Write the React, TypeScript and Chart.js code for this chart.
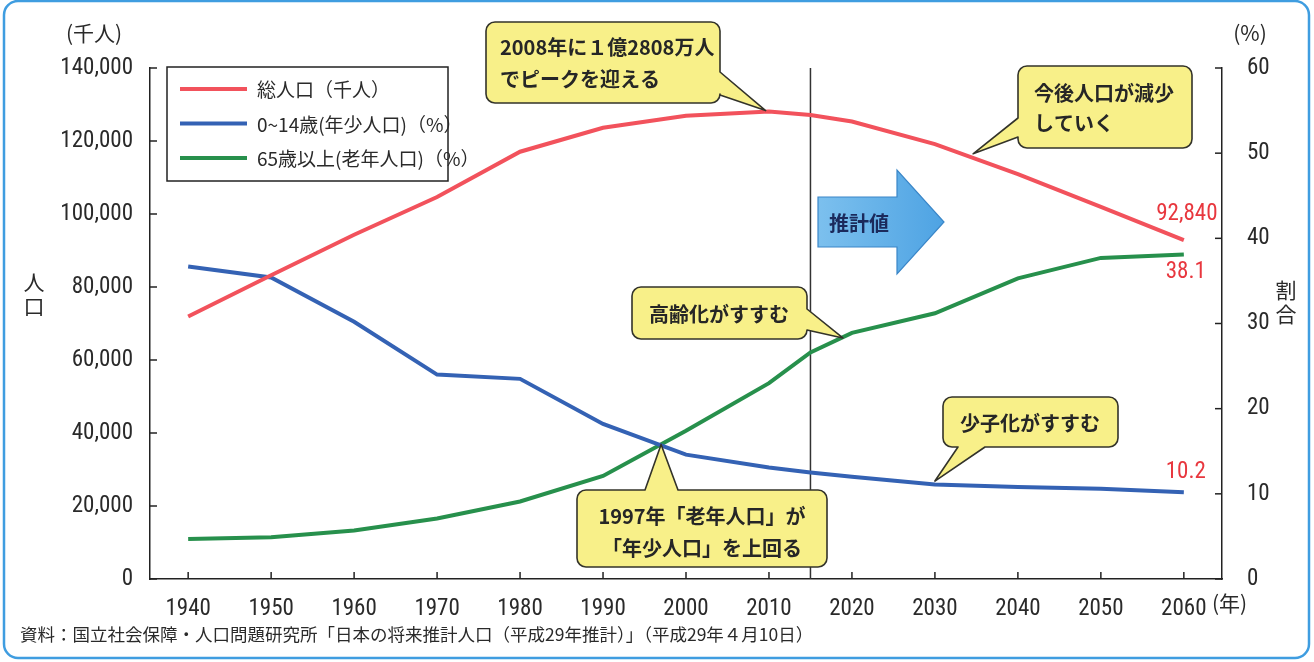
import React, { useEffect, useRef } from "react";
import { Chart, registerables } from "chart.js";

Chart.register(...registerables);

// ---- data ----
const years = [1940, 1950, 1960, 1970, 1980, 1990, 2000, 2010, 2015, 2020, 2030, 2040, 2050, 2060];
const totalPop = [71933, 83200, 94302, 104665, 117060, 123611, 126926, 128057, 127095, 125325, 119125, 110919, 101923, 92840];
const youngPct = [36.7, 35.4, 30.2, 24.0, 23.5, 18.2, 14.6, 13.1, 12.5, 12.0, 11.1, 10.8, 10.6, 10.2];
const oldPct = [4.7, 4.9, 5.7, 7.1, 9.1, 12.1, 17.4, 23.0, 26.6, 28.9, 31.2, 35.3, 37.7, 38.1];

const xTickValues = [1940, 1950, 1960, 1970, 1980, 1990, 2000, 2010, 2020, 2030, 2040, 2050, 2060];
const leftTickValues = [0, 20000, 40000, 60000, 80000, 100000, 120000, 140000];
const rightTickValues = [0, 10, 20, 30, 40, 50, 60];

const seriesLabels = ["総人口（千人）", "0~14歳(年少人口)（%）", "65歳以上(老年人口)（%）"];
const projectionStartYear = 2015;
const peakYear = 2008;

const COLORS = { total: "#f2525c", young: "#3462b4", old: "#27904c" };
const NUM_FAMILY = "Roboto,'DejaVu Sans',sans-serif";
const NUM_WEIGHT = "normal condensed";
const JP_FONT = "'Noto Sans CJK JP','Noto Sans',sans-serif";
const TEXT = "#2a2a2a";

function calloutPath(
  ctx: CanvasRenderingContext2D,
  x: number, y: number, w: number, h: number, r: number,
  side: string, a: number, b: number, tx: number, ty: number
) {
  ctx.beginPath();
  ctx.moveTo(x + r, y);
  if (side === "top") { ctx.lineTo(a, y); ctx.lineTo(tx, ty); ctx.lineTo(b, y); }
  ctx.lineTo(x + w - r, y);
  ctx.arcTo(x + w, y, x + w, y + r, r);
  if (side === "right") { ctx.lineTo(x + w, a); ctx.lineTo(tx, ty); ctx.lineTo(x + w, b); }
  ctx.lineTo(x + w, y + h - r);
  ctx.arcTo(x + w, y + h, x + w - r, y + h, r);
  if (side === "bottom") { ctx.lineTo(b, y + h); ctx.lineTo(tx, ty); ctx.lineTo(a, y + h); }
  ctx.lineTo(x + r, y + h);
  ctx.arcTo(x, y + h, x, y + h - r, r);
  if (side === "left") { ctx.lineTo(x, b); ctx.lineTo(tx, ty); ctx.lineTo(x, a); }
  ctx.lineTo(x, y + r);
  ctx.arcTo(x, y, x + r, y, r);
  ctx.closePath();
}

function drawCallout(
  ctx: CanvasRenderingContext2D,
  box: [number, number, number, number],
  side: string, a: number, b: number, tx: number, ty: number,
  lines: string[], lineGap: number, align: "left" | "center", textX: number, textY: number
) {
  const [x, y, w, h] = box;
  ctx.save();
  calloutPath(ctx, x, y, w, h, 9, side, a, b, tx, ty);
  ctx.fillStyle = "#f8f089";
  ctx.fill();
  ctx.lineWidth = 1.6;
  ctx.strokeStyle = "#33332a";
  ctx.lineJoin = "round";
  ctx.stroke();
  ctx.fillStyle = "#262626";
  ctx.font = `bold 20px ${JP_FONT}`;
  ctx.textAlign = align;
  ctx.textBaseline = "middle";
  lines.forEach((t, i) => ctx.fillText(t, textX, textY + i * lineGap));
  ctx.restore();
}

const decorPlugin = {
  id: "decor",
  beforeDraw(chart: any) {
    const ctx = chart.ctx as CanvasRenderingContext2D;
    ctx.save();
    ctx.fillStyle = "#ffffff";
    ctx.fillRect(0, 0, chart.width, chart.height);
    ctx.beginPath();
    const fx = 4, fy = 1, fw = 1305, fh = 657, fr = 14;
    ctx.moveTo(fx + fr, fy);
    ctx.arcTo(fx + fw, fy, fx + fw, fy + fh, fr);
    ctx.arcTo(fx + fw, fy + fh, fx, fy + fh, fr);
    ctx.arcTo(fx, fy + fh, fx, fy, fr);
    ctx.arcTo(fx, fy, fx + fw, fy, fr);
    ctx.closePath();
    ctx.lineWidth = 2.5;
    ctx.strokeStyle = "#3f9de0";
    ctx.stroke();
    ctx.restore();
  },
  beforeDatasetsDraw(chart: any) {
    const ctx = chart.ctx as CanvasRenderingContext2D;
    const { x, yL, yR } = chart.scales;
    const area = chart.chartArea;
    ctx.save();
    const px = x.getPixelForValue(projectionStartYear);
    ctx.beginPath();
    ctx.moveTo(px, area.top);
    ctx.lineTo(px, area.bottom);
    ctx.lineWidth = 1.5;
    ctx.strokeStyle = "#333";
    ctx.stroke();
    ctx.lineWidth = 1.5;
    ctx.strokeStyle = "#222";
    xTickValues.forEach((v) => {
      const p = x.getPixelForValue(v);
      ctx.beginPath(); ctx.moveTo(p, area.bottom); ctx.lineTo(p, area.bottom - 7); ctx.stroke();
    });
    leftTickValues.forEach((v) => {
      const p = yL.getPixelForValue(v);
      ctx.beginPath(); ctx.moveTo(area.left, p); ctx.lineTo(area.left + 7, p); ctx.stroke();
    });
    rightTickValues.forEach((v) => {
      const p = yR.getPixelForValue(v);
      ctx.beginPath(); ctx.moveTo(area.right, p); ctx.lineTo(area.right - 7, p); ctx.stroke();
    });
    ctx.restore();
  },
  afterDraw(chart: any) {
    const ctx = chart.ctx as CanvasRenderingContext2D;
    const { x, yL, yR } = chart.scales;
    ctx.save();

    ctx.fillStyle = TEXT;
    ctx.font = `21px ${JP_FONT}`;
    ctx.textBaseline = "middle";
    ctx.textAlign = "center";
    ctx.fillText("(千人)", 94, 33);
    ctx.fillText("(%)", 1250, 33);
    ctx.fillText("人", 34, 282);
    ctx.fillText("口", 34, 306);
    ctx.fillText("割", 1286, 290);
    ctx.fillText("合", 1286, 314);
    ctx.textAlign = "left";
    ctx.fillText("(年)", 1212, 603);

    ctx.font = `17.5px ${JP_FONT}`;
    ctx.textAlign = "left";
    ctx.fillText("資料：国立社会保障・人口問題研究所「日本の将来推計人口（平成29年推計）」（平成29年４月10日）", 20, 634);

    // legend
    ctx.fillStyle = "#fff";
    ctx.fillRect(167, 67, 281, 114);
    ctx.lineWidth = 1.5;
    ctx.strokeStyle = "#222";
    ctx.strokeRect(167, 67, 281, 114);
    const legendColors = [COLORS.total, COLORS.young, COLORS.old];
    seriesLabels.forEach((lab, i) => {
      const ly = 89 + i * 34.5;
      ctx.beginPath();
      ctx.moveTo(180, ly);
      ctx.lineTo(247, ly);
      ctx.lineWidth = 4;
      ctx.strokeStyle = legendColors[i];
      ctx.stroke();
      ctx.fillStyle = TEXT;
      ctx.font = `19px ${JP_FONT}`;
      ctx.textAlign = "left";
      ctx.fillText(lab, 257, ly + 1);
    });

    // end-value labels
    const li = years.length - 1;
    const lastX = x.getPixelForValue(years[li]);
    ctx.fillStyle = "#e8373e";
    ctx.font = `${NUM_WEIGHT} 23px ${NUM_FAMILY}`;
    ctx.textAlign = "center";
    ctx.fillText(totalPop[li].toLocaleString("en-US"), lastX + 3, yL.getPixelForValue(totalPop[li]) - 26);
    ctx.fillText(oldPct[li].toFixed(1), lastX + 2, yR.getPixelForValue(oldPct[li]) + 18);
    ctx.fillText(youngPct[li].toFixed(1), lastX + 2, yR.getPixelForValue(youngPct[li]) - 20);

    // projection arrow
    ctx.beginPath();
    ctx.moveTo(818, 197);
    ctx.lineTo(897, 197);
    ctx.lineTo(897, 170);
    ctx.lineTo(944, 222);
    ctx.lineTo(897, 274);
    ctx.lineTo(897, 247);
    ctx.lineTo(818, 247);
    ctx.closePath();
    const g = ctx.createLinearGradient(818, 0, 944, 0);
    g.addColorStop(0, "#7cc0ee");
    g.addColorStop(1, "#4ea3e3");
    ctx.fillStyle = g;
    ctx.fill();
    ctx.lineWidth = 1.2;
    ctx.strokeStyle = "#3a86c8";
    ctx.stroke();
    ctx.fillStyle = "#1b2a5c";
    ctx.font = `bold 20px ${JP_FONT}`;
    ctx.textAlign = "center";
    ctx.fillText("推計値", 859, 223);

    // callouts
    drawCallout(ctx, [486, 22, 234, 81], "right", 72, 95,
      x.getPixelForValue(peakYear + 1.6), yL.getPixelForValue(totalPop[7]) - 1,
      ["2008年に１億2808万人", "でピークを迎える"], 32, "left", 500, 47);

    drawCallout(ctx, [1018, 66, 174, 82], "left", 118, 137,
      x.getPixelForValue(2034.6), yL.getPixelForValue(116500),
      ["今後人口が減少", "していく"], 30, "left", 1034, 93);

    drawCallout(ctx, [632, 287, 175, 52], "right", 309, 330,
      x.getPixelForValue(2018.9), yR.getPixelForValue(28.3),
      ["高齢化がすすむ"], 0, "center", 719, 314);

    drawCallout(ctx, [943, 397, 175, 50], "bottom", 958, 985,
      x.getPixelForValue(2030), yR.getPixelForValue(11.5),
      ["少子化がすすむ"], 0, "center", 1030, 423);

    drawCallout(ctx, [577, 490, 250, 77], "top", 645, 678,
      x.getPixelForValue(1997), yR.getPixelForValue(15.8),
      ["1997年「老年人口」が", "「年少人口」を上回る"], 32, "center", 702, 516);

    ctx.restore();
  },
};

export default function App() {
  const ref = useRef<HTMLCanvasElement | null>(null);
  useEffect(() => {
    document.body.style.margin = "0";
    const canvas = ref.current;
    if (!canvas) return;
    const mk = (vals: number[]) => years.map((yr, i) => ({ x: yr, y: vals[i] }));
    const tickFont = { family: NUM_FAMILY, size: 23, weight: NUM_WEIGHT };
    const chart = new Chart(canvas, {
      type: "line",
      data: {
        datasets: [
          { label: seriesLabels[0], data: mk(totalPop), yAxisID: "yL", borderColor: COLORS.total, borderWidth: 4, pointRadius: 0, tension: 0 },
          { label: seriesLabels[1], data: mk(youngPct), yAxisID: "yR", borderColor: COLORS.young, borderWidth: 4, pointRadius: 0, tension: 0 },
          { label: seriesLabels[2], data: mk(oldPct), yAxisID: "yR", borderColor: COLORS.old, borderWidth: 4, pointRadius: 0, tension: 0 },
        ],
      },
      options: {
        responsive: false,
        animation: false,
        devicePixelRatio: 1,
        layout: { padding: { top: 68, left: 0, right: 0, bottom: 33 } },
        plugins: { legend: { display: false }, tooltip: { enabled: false } },
        scales: {
          x: {
            type: "linear",
            position: "bottom",
            min: 1935.4,
            max: 2064.6,
            grid: { display: false },
            border: { display: true, color: "#222", width: 1.5 },
            ticks: { font: tickFont, color: TEXT, padding: 8, maxRotation: 0, autoSkip: false, callback: (v: any) => String(v) },
            afterBuildTicks: (s: any) => { s.ticks = xTickValues.map((v) => ({ value: v })); },
            afterFit: (s: any) => { s.height = 50; },
          },
          yL: {
            type: "linear",
            position: "left",
            min: 0,
            max: 140000,
            grid: { display: false },
            border: { display: true, color: "#222", width: 1.5 },
            ticks: { font: tickFont, color: TEXT, padding: 9, callback: (v: any) => Number(v).toLocaleString("en-US") },
            afterBuildTicks: (s: any) => { s.ticks = leftTickValues.map((v) => ({ value: v })); },
            afterFit: (s: any) => { s.width = 150; },
          },
          yR: {
            type: "linear",
            position: "right",
            min: 0,
            max: 60,
            grid: { display: false },
            border: { display: true, color: "#222", width: 1.5 },
            ticks: { font: tickFont, color: TEXT, padding: 17, callback: (v: any) => String(v) },
            afterBuildTicks: (s: any) => { s.ticks = rightTickValues.map((v) => ({ value: v })); },
            afterFit: (s: any) => { s.width = 92; },
          },
        },
      },
      plugins: [decorPlugin],
    } as any);
    return () => chart.destroy();
  }, []);
  return (
    <div style={{ width: 1314, height: 662 }}>
      <canvas ref={ref} width={1314} height={662} style={{ display: "block", width: 1314, height: 662 }} />
    </div>
  );
}
